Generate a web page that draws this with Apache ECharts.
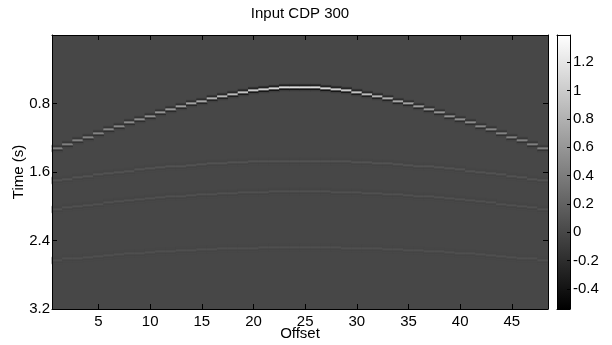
<!DOCTYPE html>
<html>
<head>
<meta charset="utf-8">
<script src="https://cdn.jsdelivr.net/npm/echarts@6/dist/echarts.min.js"></script>
<style>html,body{margin:0;padding:0;background:#fff}#c{width:612px;height:345px}</style>
</head>
<body>
<div id="c"></div>
<script>
// ---- data ----
const offsets = [1,2,3,4,5,6,7,8,9,10,11,12,13,14,15,16,17,18,19,20,21,22,23,24,25,26,27,28,29,30,31,32,33,34,35,36,37,38,39,40,41,42,43,44,45,46,47,48];
const xTicks = [5,10,15,20,25,30,35,40,45];
const yTicks = [0.8,1.6,2.4,3.2];
const cbTicks = [-0.4,-0.2,0,0.2,0.4,0.6,0.8,1,1.2];
const clim = [-0.54, 1.39];
const timeMax = 3.2;
const nSamples = 274;

// event arrival times (s) per offset
const t1 = [1.324,1.279,1.236,1.193,1.150,1.108,1.067,1.026,0.986,0.948,0.910,0.874,0.839,0.805,0.774,0.744,0.717,0.692,0.670,0.651,0.636,0.624,0.616,0.612,
            0.612,0.616,0.624,0.636,0.651,0.670,0.692,0.717,0.744,0.774,0.805,0.839,0.874,0.910,0.948,0.986,1.026,1.067,1.108,1.150,1.193,1.236,1.279,1.324];
const a1 = [0.52,0.53,0.54,0.55,0.57,0.59,0.61,0.63,0.66,0.69,0.72,0.76,0.80,0.85,0.90,0.96,1.02,1.08,1.15,1.22,1.28,1.33,1.37,1.39,
            1.39,1.37,1.33,1.28,1.22,1.15,1.08,1.02,0.96,0.90,0.85,0.80,0.76,0.72,0.69,0.66,0.63,0.61,0.59,0.57,0.55,0.54,0.53,0.52];
const t2 = [1.702,1.684,1.666,1.650,1.634,1.618,1.604,1.589,1.576,1.563,1.552,1.541,1.530,1.521,1.512,1.504,1.497,1.491,1.486,1.481,1.478,1.475,1.473,1.472,
            1.472,1.473,1.475,1.478,1.481,1.486,1.491,1.497,1.504,1.512,1.521,1.530,1.541,1.552,1.563,1.576,1.589,1.604,1.618,1.634,1.650,1.666,1.684,1.702];
const t3 = [2.036,2.019,2.004,1.989,1.974,1.960,1.947,1.934,1.922,1.911,1.900,1.891,1.881,1.873,1.865,1.858,1.852,1.847,1.842,1.838,1.835,1.833,1.831,1.830,
            1.830,1.831,1.833,1.835,1.838,1.842,1.847,1.852,1.858,1.865,1.873,1.881,1.891,1.900,1.911,1.922,1.934,1.947,1.960,1.974,1.989,2.004,2.019,2.036];
const t4 = [2.628,2.616,2.605,2.594,2.584,2.574,2.565,2.556,2.548,2.540,2.532,2.526,2.519,2.513,2.508,2.503,2.499,2.495,2.492,2.489,2.487,2.486,2.485,2.484,
            2.484,2.485,2.486,2.487,2.489,2.492,2.495,2.499,2.503,2.508,2.513,2.519,2.526,2.532,2.540,2.548,2.556,2.565,2.574,2.584,2.594,2.605,2.616,2.628];
const amp2 = 0.10, amp3 = 0.09, amp4 = 0.07;
// wavelet samples (relative), centered on the arrival sample
const wavelet = [-0.06,-0.36,0.25,1,0.25,-0.36,-0.06];

// ---- build cells ----
const dt = timeMax / nSamples;
const sampleCats = [];
for (let i = 0; i < nSamples; i++) sampleCats.push(i);
const cells = [];
function addEvent(times, ampOf) {
  const half = (wavelet.length - 1) / 2;
  for (let j = 0; j < offsets.length; j++) {
    const idx = Math.floor(times[j] / dt);
    for (let k = 0; k < wavelet.length; k++) {
      const s = idx + k - half;
      if (s >= 0 && s < nSamples) cells.push([j, s, ampOf(j) * wavelet[k]]);
    }
  }
}
addEvent(t1, j => a1[j]);
addEvent(t2, () => amp2);
addEvent(t3, () => amp3);
addEvent(t4, () => amp4);

const g0 = Math.round(255 * (0 - clim[0]) / (clim[1] - clim[0]));
const bg = 'rgb(' + g0 + ',' + g0 + ',' + g0 + ')';
const FONT = "'Liberation Sans', Arial, sans-serif";
const black = '#000';
const txt = {color: black, fontSize: 15, fontFamily: FONT};

const chart = echarts.init(document.getElementById('c'), null, {renderer: 'canvas'});
chart.setOption({
  animation: false,
  backgroundColor: '#fff',
  title: {text: 'Input CDP 300', left: 300, top: 6, textAlign: 'center', padding: 0,
          textStyle: {fontSize: 15, fontWeight: 'normal', color: black, fontFamily: FONT}},
  grid: [
    {left: 52, top: 35, width: 496, height: 274, show: true, backgroundColor: bg, borderWidth: 0, containLabel: false, outerBoundsMode: 'none'},
    {left: 52, top: 35, width: 496, height: 274, show: false, containLabel: false, outerBoundsMode: 'none'},
    {left: 557, top: 35, width: 13, height: 274, show: false, containLabel: false, outerBoundsMode: 'none'}
  ],
  visualMap: {type: 'continuous', show: false, min: clim[0], max: clim[1], dimension: 2, seriesIndex: 0,
              inRange: {color: ['#000000', '#ffffff']}},
  xAxis: [
    {type: 'category', gridIndex: 0, data: offsets, show: false, position: 'top'},
    {type: 'value', gridIndex: 0, position: 'bottom', min: 0.5, max: 48.5, z: 5,
     axisLine: {show: true, onZero: false, lineStyle: {color: black, width: 1}},
     axisTick: {show: true, inside: true, length: 5, customValues: xTicks, lineStyle: {color: black}},
     axisLabel: Object.assign({show: true, customValues: xTicks, margin: 5}, txt),
     splitLine: {show: false},
     name: 'Offset', nameLocation: 'middle', nameGap: 17, nameMoveOverlap: false,
     nameTextStyle: Object.assign({lineHeight: 15}, txt)},
    {type: 'value', gridIndex: 1, position: 'top', min: 0.5, max: 48.5, z: 5,
     axisLine: {show: true, onZero: false, lineStyle: {color: black, width: 1}},
     axisTick: {show: true, inside: true, length: 5, customValues: xTicks, lineStyle: {color: black}},
     axisLabel: {show: false}, splitLine: {show: false}},
    {type: 'value', gridIndex: 2, position: 'bottom', min: 0, max: 1, z: 5,
     axisLine: {show: true, onZero: false, lineStyle: {color: black, width: 1}},
     axisTick: {show: false}, axisLabel: {show: false}, splitLine: {show: false}},
    {type: 'value', gridIndex: 2, position: 'top', min: 0, max: 1, z: 5,
     axisLine: {show: true, onZero: false, lineStyle: {color: black, width: 1}},
     axisTick: {show: false}, axisLabel: {show: false}, splitLine: {show: false}}
  ],
  yAxis: [
    {type: 'category', gridIndex: 0, data: sampleCats, inverse: true, show: false, position: 'right'},
    {type: 'value', gridIndex: 0, position: 'left', min: 0, max: timeMax, inverse: true, z: 5,
     axisLine: {show: true, onZero: false, lineStyle: {color: black, width: 1}},
     axisTick: {show: true, inside: true, length: 5, customValues: yTicks, lineStyle: {color: black}},
     axisLabel: Object.assign({show: true, customValues: yTicks, margin: 2}, txt),
     splitLine: {show: false},
     name: 'Time (s)', nameLocation: 'middle', nameGap: 26, nameRotate: 90, nameMoveOverlap: false,
     nameTextStyle: Object.assign({lineHeight: 15}, txt)},
    {type: 'value', gridIndex: 1, position: 'right', min: 0, max: timeMax, inverse: true, z: 5,
     axisLine: {show: true, onZero: false, lineStyle: {color: black, width: 1}},
     axisTick: {show: true, inside: true, length: 5, customValues: yTicks, lineStyle: {color: black}},
     axisLabel: {show: false}, splitLine: {show: false}},
    {type: 'value', gridIndex: 2, position: 'right', min: clim[0], max: clim[1], z: 5,
     axisLine: {show: true, onZero: false, lineStyle: {color: black, width: 1}},
     axisTick: {show: true, inside: true, length: 3, customValues: cbTicks, lineStyle: {color: black}},
     axisLabel: Object.assign({show: true, customValues: cbTicks, margin: 3}, txt),
     splitLine: {show: false}},
    {type: 'value', gridIndex: 2, position: 'left', min: clim[0], max: clim[1], z: 5,
     axisLine: {show: true, onZero: false, lineStyle: {color: black, width: 1}},
     axisTick: {show: false}, axisLabel: {show: false}, splitLine: {show: false}}
  ],
  series: [
    {type: 'heatmap', xAxisIndex: 0, yAxisIndex: 0, data: cells, progressive: 0,
     itemStyle: {borderWidth: 0}, emphasis: {disabled: true}, silent: true},
    {type: 'custom', xAxisIndex: 3, yAxisIndex: 3, silent: true,
     data: [[0, 1, clim[0], clim[1]]],
     renderItem: function (params, api) {
       const p0 = api.coord([api.value(0), api.value(3)]);
       const p1 = api.coord([api.value(1), api.value(2)]);
       return {type: 'rect',
               shape: {x: p0[0], y: p0[1], width: p1[0] - p0[0], height: p1[1] - p0[1]},
               style: {fill: new echarts.graphic.LinearGradient(0, 0, 0, 1,
                       [{offset: 0, color: '#ffffff'}, {offset: 1, color: '#000000'}])}};
     }}
  ]
});
</script>
</body>
</html>
